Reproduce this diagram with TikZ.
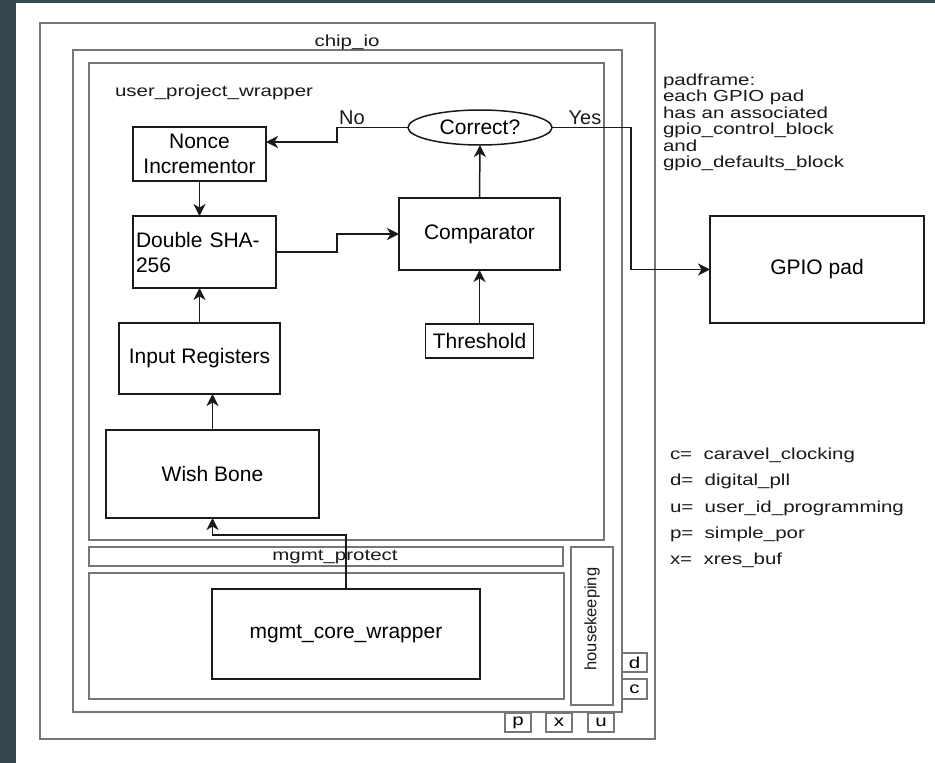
\documentclass[tikz,border=0pt]{standalone}
\usepackage{fontspec}
\setmainfont{Liberation Sans}
\newfontfamily\widefont[FakeStretch=1.28]{Liberation Sans}
\usetikzlibrary{arrows.meta,shapes.geometric}
\definecolor{band}{HTML}{37474F}
\definecolor{frame}{HTML}{767676}
\definecolor{ink}{HTML}{1A1A1A}
\tikzset{
 big/.style={font=\fontsize{21}{25}\selectfont},
 small/.style={font=\widefont\fontsize{16}{16.4}\selectfont},
 container/.style={draw=frame, line width=1.6pt, rectangle, inner sep=0pt, outer sep=0pt},
 block/.style={draw=ink, line width=1.5pt, rectangle, inner sep=0pt, outer sep=0pt, big, align=center},
 arr/.style={draw=ink, line width=1.5pt, -{Stealth[length=12pt 0,width=12pt 0,inset=3.5pt 0]}},
 lbl/.style={inner sep=0pt, outer sep=0pt, text=ink},
}
\begin{document}
\begin{tikzpicture}[x=1pt,y=-1pt]
\useasboundingbox (0,0) rectangle (935,763);
\fill[white] (0,0) rectangle (935,763);
\fill[band] (0,0) rectangle (16,763);
\fill[band] (0,0) rectangle (935,3);

% containers
\node[container, minimum width=615pt, minimum height=716pt] (chipio) at (347.5,381) {};
\node[container, minimum width=549pt, minimum height=662pt] (padin) at (347.5,381) {};
\node[container, minimum width=515pt, minimum height=477pt] (upw) at (346.5,301.5) {};
\node[container, minimum width=474pt, minimum height=19pt] (mprot) at (326,556.5) {};
\node[container, minimum width=475pt, minimum height=126pt] (marea) at (326.5,636) {};
\node[container, minimum width=42pt, minimum height=158pt] (hk) at (592,626) {};
\node[container, minimum width=25pt, minimum height=19pt, small] (dbox) at (634.5,662.5) {d};
\node[container, minimum width=25pt, minimum height=20pt, small] (cbox) at (634.5,689) {c};
\node[container, minimum width=26pt, minimum height=19pt, small] (pbox) at (518,722.5) {p};
\node[container, minimum width=26pt, minimum height=19pt, small] (xbox) at (559,722.5) {x};
\node[container, minimum width=26pt, minimum height=19pt, small] (ubox) at (601,722.5) {u};

% container labels
\node[lbl, small] (chiplbl) at (347,42) {chip\_io};
\node[lbl, small, anchor=west] (upwlbl) at (115,92) {user\_project\_wrapper};
\node[lbl, small] (mprotlbl) at (335,557) {mgmt\_protect};
\node[lbl, rotate=90, font=\fontsize{16.5}{18}\selectfont] (hklbl) at (592,619) {housekeeping};

% blocks
\node[block, minimum width=133pt, minimum height=54pt] (nonce) at (199.5,154) {Nonce\\Incrementor};
\node[block, minimum width=143pt, minimum height=72pt, align=left, text width=137pt] (dsha) at (204.5,252) {Double SHA-\\256};
\node[block, minimum width=161pt, minimum height=71pt] (inreg) at (199.5,358.5) {Input Registers};
\node[block, minimum width=213pt, minimum height=88pt] (wish) at (212.5,474) {Wish Bone};
\node[block, minimum width=161pt, minimum height=72pt] (comp) at (479.5,234) {Comparator};
\node[block, minimum width=108pt, minimum height=34pt] (thr) at (479.5,341) {Threshold};
\node[draw=ink, line width=1.5pt, ellipse, minimum width=144pt, minimum height=35pt, inner sep=0pt, outer sep=0pt, big] (correct) at (480,127.5) {Correct?};
\node[block, minimum width=214pt, minimum height=107pt] (gpio) at (817,269.5) {GPIO pad};
\node[block, minimum width=268pt, minimum height=90pt] (mcore) at (346,634) {mgmt\_core\_wrapper};

% helper coordinates
\coordinate (elbow) at (337,0);
\coordinate (yesx) at (631,0);
\coordinate (wbrow) at (0,535);

% connectors
\draw[arr] (nonce.south) -- (nonce.south |- dsha.north);
\draw[arr] (inreg.north) -- (inreg.north |- dsha.south);
\draw[arr] (wish.north) -- (wish.north |- inreg.south);
\draw[arr] (dsha.east) -- (dsha.east -| elbow) |- (comp.west);
\draw[arr] (comp.north) -- (correct.south);
\draw[arr] (thr.north) -- (comp.south);
\draw[arr] (correct.west) -- (correct.west -| elbow) |- ([yshift=12pt]nonce.east);
\draw[arr] (correct.east) -- (correct.east -| yesx) |- (gpio.west);
\draw[arr] (mcore.north) -- (mcore.north |- wbrow) -| (wish.south);

% connector labels
\node[lbl, font=\fontsize{20}{24}\selectfont] (nolbl) at (352,118) {No};
\node[lbl, font=\fontsize{20}{24}\selectfont] (yeslbl) at (585,118) {Yes};

% notes
\node[lbl, small, anchor=north west, align=left] (padnote) at (663,74)
  {padframe:\\each GPIO pad\\has an associated\\gpio\_control\_block\\and\\gpio\_defaults\_block};
\node[lbl, small, anchor=north west, align=left, font=\widefont\fontsize{16}{26.3}\selectfont] (legend) at (670,448)
  {c=\ \ caravel\_clocking\\d=\ \ digital\_pll\\u=\ \ user\_id\_programming\\p=\ \ simple\_por\\x=\ \ xres\_buf};
\end{tikzpicture}
\end{document}
